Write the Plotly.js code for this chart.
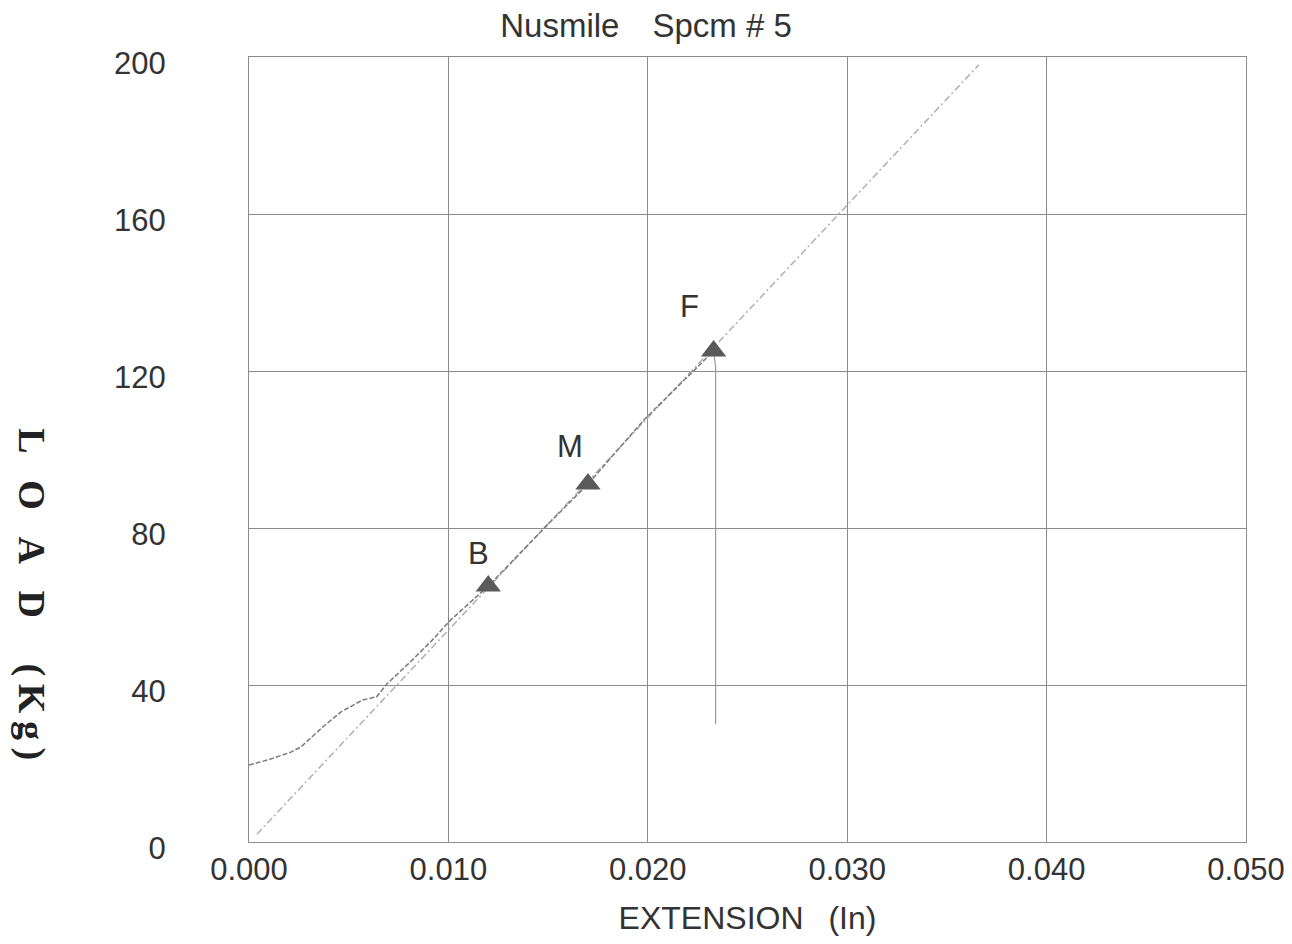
<!DOCTYPE html>
<html>
<head>
<meta charset="utf-8">
<script src="https://cdn.plot.ly/plotly-3.0.1.min.js"></script>
<style>html,body{margin:0;padding:0;background:#fff;}#chart{width:1292px;height:944px;}</style>
</head>
<body>
<div id="chart"></div>
<script>
// Load–extension record (measured curve)
const extension = [0, 0.0010, 0.0021, 0.0026, 0.0037, 0.0046, 0.0057, 0.0064, 0.0069, 0.0082, 0.0092, 0.0101, 0.0120, 0.0150, 0.0170, 0.0198, 0.0233, 0.0234, 0.0234];
const load = [19.6, 21.0, 22.9, 24.2, 29.3, 33.1, 36.2, 37.0, 40.2, 46.4, 51.5, 56.5, 65.2, 81.0, 91.2, 107.5, 125.1, 121.0, 30.0];
// Fitted straight line
const fitExtension = [0.0004, 0.0366];
const fitLoad = [2, 198];
// Marked points
const pointLabels = ["B", "M", "F"];
const pointExtension = [0.0120, 0.0170, 0.0233];
const pointLoad = [65.2, 91.2, 125.1];
// Axis ticks
const xTicks = [0, 0.01, 0.02, 0.03, 0.04, 0.05];
const xTickText = ["0.000", "0.010", "0.020", "0.030", "0.040", "0.050"];
const yTicks = [0, 40, 80, 120, 160, 200];

// label pixel offsets (style only)
const labelShiftX = [-10, -18, -24];
const labelShiftY = [33, 38, 44];

const txt = '#333333';
const sans = 'Liberation Sans, Arial, sans-serif';
const dropAt = extension.length - 2; // fracture drop begins here
const data = [
  {x: fitExtension, y: fitLoad, mode: 'lines', type: 'scatter',
   line: {color: '#b0b0b0', width: 1.5, dash: '7px,3px,2px,3px'}, hoverinfo: 'skip'},
  {x: extension.slice(0, dropAt), y: load.slice(0, dropAt), mode: 'lines', type: 'scatter',
   line: {color: '#7a7a7a', width: 1.5, dash: '5px,2px'}, hoverinfo: 'skip'},
  {x: extension.slice(dropAt - 1), y: load.slice(dropAt - 1), mode: 'lines', type: 'scatter',
   line: {color: '#999999', width: 1.2}, hoverinfo: 'skip'},
  {x: pointExtension, y: pointLoad, mode: 'markers', type: 'scatter',
   marker: {symbol: 'triangle-up', size: 22, color: '#5a5a5a'}, hoverinfo: 'skip'}
];

const annotations = pointLabels.map((t, i) => ({
  x: pointExtension[i], y: pointLoad[i], xref: 'x', yref: 'y', text: t, showarrow: false,
  xshift: labelShiftX[i], yshift: labelShiftY[i], font: {family: sans, size: 31, color: txt}
}));
annotations.push({
  xref: 'paper', yref: 'paper', x: -0.219, y: 0.316, xanchor: 'center', yanchor: 'middle',
  showarrow: false, textangle: 90,
  text: '<b>L\u2002\u2009O\u2002\u2009A\u2002\u2009D\u2003\u2009(\u2009K\u2009g\u2009)</b>',
  font: {family: 'Liberation Serif, Times New Roman, serif', size: 38, color: '#222'}
});

const layout = {
  width: 1292, height: 944,
  margin: {l: 249, r: 46, t: 57, b: 102},
  paper_bgcolor: '#ffffff', plot_bgcolor: '#ffffff',
  showlegend: false,
  title: {text: 'Nusmile\u2003Spcm # 5', x: 0.5, xref: 'container', xanchor: 'center',
          y: 0.973, yanchor: 'middle',
          font: {family: sans, size: 33, color: txt}},
  xaxis: {range: [0, 0.05], tickvals: xTicks, ticktext: xTickText, showgrid: true,
          gridcolor: '#8c8c8c', gridwidth: 1, zeroline: false, showline: true, mirror: true,
          linecolor: '#8c8c8c', linewidth: 1, ticks: '', ticklabelstandoff: 0,
          tickfont: {family: sans, size: 31, color: txt},
          title: {text: 'EXTENSION\u2002 (In)', standoff: 20,
                  font: {family: sans, size: 32, color: txt}}},
  yaxis: {range: [0, 200], tickvals: yTicks, showgrid: true,
          gridcolor: '#8c8c8c', gridwidth: 1, zeroline: false, showline: true, mirror: true,
          linecolor: '#8c8c8c', linewidth: 1, ticks: '', ticklabelstandoff: 76, ticklabelshift: 6,
          tickfont: {family: sans, size: 31, color: txt}},
  annotations: annotations
};
Plotly.newPlot('chart', data, layout, {staticPlot: true, displayModeBar: false});
</script>
</body>
</html>
